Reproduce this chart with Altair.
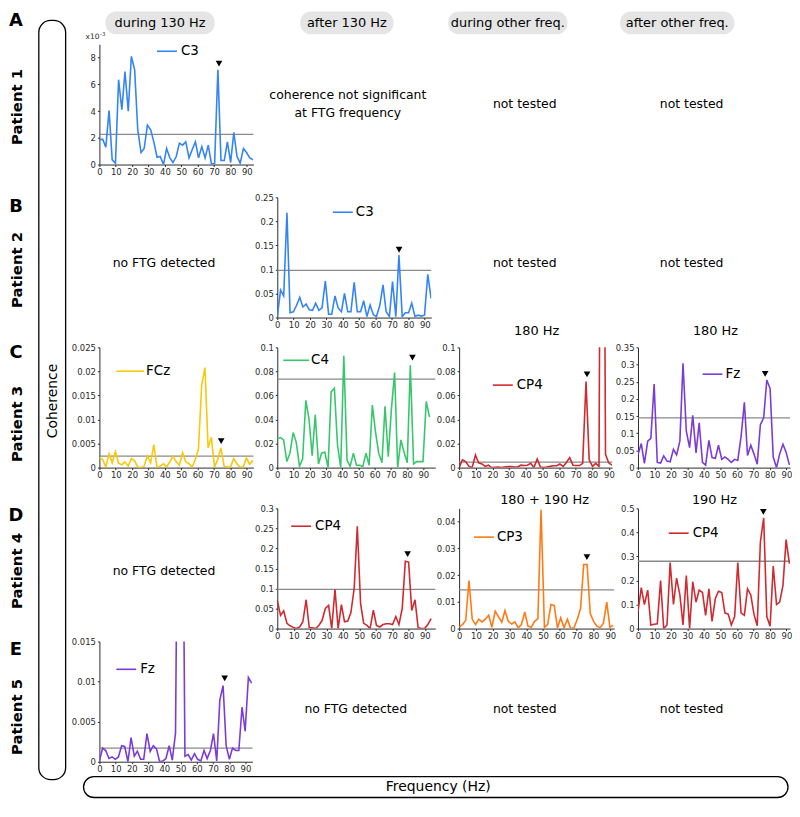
import altair as alt
import pandas as pd

FONT = "DejaVu Sans"
INK = "#2b2b2b"

# ---------------------------------------------------------------- data
FREQ = [0.0, 2.0, 3.9, 5.9, 7.8, 9.8, 11.7, 13.7, 15.6, 17.6, 19.5, 21.5, 23.4,
        25.4, 27.3, 29.3, 31.3, 33.2, 35.2, 37.1, 39.1, 41.0, 43.0, 44.9, 46.9,
        48.8, 50.8, 52.7, 54.7, 56.6, 58.6, 60.5, 62.5, 64.5, 66.4, 68.4, 70.3,
        72.3, 74.2, 76.2, 78.1, 80.1, 82.0, 84.0, 85.9, 87.9, 89.8, 91.8, 93.8]
XTICKS = [0, 10, 20, 30, 40, 50, 60, 70, 80, 90]

P1_DURING_C3 = [1.85, 1.9, 1.3, 4.05, 0.35, 0.1, 6.35, 4.1, 6.95, 4.0, 8.1, 7.1, 2.6,
                0.9, 1.2, 2.95, 2.6, 1.7, 0.55, 0.6, 0.0, 1.2, 0.5, 0.15, 0.6, 1.6,
                1.45, 1.7, 0.5, 1.1, 1.7, 0.5, 1.35, 0.5, 1.45, 0.05, 0.05, 7.1, 0.3,
                0.3, 1.7, 0.15, 2.4, 0.6, 0.1, 1.2, 0.9, 0.5, 0.35]
P2_AFTER_C3 = [0.002, 0.057, 0.045, 0.218, 0.010, 0.012, 0.025, 0.042, 0.022, 0.028,
               0.016, 0.015, 0.030, 0.015, 0.020, 0.076, 0.007, 0.007, 0.045, 0.020,
               0.012, 0.050, 0.012, 0.012, 0.073, 0.012, 0.012, 0.035, 0.002, 0.026,
               0.006, 0.002, 0.025, 0.068, 0.012, 0.002, 0.075, 0.002, 0.130, 0.002,
               0.010, 0.010, 0.030, 0.002, 0.005, 0.003, 0.005, 0.090, 0.040]
P3_DURING_FCZ = [0.002, 0.0017, 0.0001, 0.0029, 0.001, 0.0033, 0.0009, 0.0006, 0.0012,
                 0.0003, 0.0019, 0.0014, 0.0001, 0.0, 0.0003, 0.0024, 0.001, 0.0048,
                 0.0, 0.0003, 0.0008, 0.0001, 0.0012, 0.0024, 0.0012, 0.0005, 0.0031,
                 0.0012, 0.0008, 0.0001, 0.0017, 0.0038, 0.0172, 0.0208, 0.0041, 0.0063,
                 0.0001, 0.0017, 0.0041, 0.0003, 0.0001, 0.0001, 0.0019, 0.0008, 0.0001,
                 0.0001, 0.002, 0.0007, 0.0015]
P3_AFTER_C4 = [0.024, 0.025, 0.023, 0.005, 0.012, 0.029, 0.021, 0.001, 0.007, 0.056,
               0.041, 0.010, 0.044, 0.003, 0.012, 0.013, 0.000, 0.063, 0.066, 0.019,
               0.000, 0.093, 0.006, 0.001, 0.012, 0.002, 0.002, 0.001, 0.012, 0.002,
               0.052, 0.030, 0.012, 0.004, 0.051, 0.009, 0.048, 0.079, 0.000, 0.023,
               0.013, 0.004, 0.085, 0.003, 0.005, 0.005, 0.005, 0.055, 0.042]
P3_OTHER_DURING_CP4 = [0.0, 0.0065, 0.005, 0.001, 0.0, 0.0105, 0.004, 0.003, 0.001, 0.002,
                       0.0, 0.0003, 0.0005, 0.0, 0.0005, 0.0008, 0.0008, 0.0005, 0.0005,
                       0.002, 0.0017, 0.002, 0.0035, 0.0, 0.0072, 0.0005, 0.0, 0.0005,
                       0.001, 0.0015, 0.0015, 0.003, 0.001, 0.0045, 0.0083, 0.002, 0.0017,
                       0.0017, 0.0035, 0.0715, 0.0065, 0.001, 0.0035, 0.001, 0.6, 0.011,
                       0.004, 0.002]
P3_OTHER_AFTER_FZ = [0.038, 0.07, 0.012, 0.077, 0.085, 0.243, 0.015, 0.013, 0.034, 0.019,
                     0.017, 0.053, 0.037, 0.077, 0.304, 0.106, 0.058, 0.152, 0.043, 0.13,
                     0.015, 0.007, 0.079, 0.029, 0.027, 0.065, 0.024, 0.031, 0.024, 0.015,
                     0.024, 0.021, 0.09, 0.19, 0.035, 0.065, 0.04, 0.01, 0.125, 0.145,
                     0.255, 0.23, 0.03, 0.0, 0.04, 0.068, 0.045, 0.008]
P4_AFTER_CP4 = [0.07, 0.033, 0.044, 0.013, 0.007, 0.003, 0.0, 0.004, 0.017, 0.072,
                0.002, 0.002, 0.0, 0.008, 0.02, 0.05, 0.058, 0.0, 0.098, 0.0,
                0.06, 0.017, 0.019, 0.04, 0.1, 0.255, 0.062, 0.013, 0.008, 0.0,
                0.046, 0.008, 0.004, 0.01, 0.012, 0.012, 0.01, 0.03, 0.01, 0.05,
                0.168, 0.166, 0.045, 0.072, 0.002, 0.0, 0.0, 0.01, 0.025]
P4_OTHER_DURING_CP3 = [0.0005, 0.0015, 0.003, 0.018, 0.0035, 0.0015, 0.0035, 0.0025,
                       0.0035, 0.005, 0.0005, 0.0065, 0.0045, 0.0024, 0.0067, 0.0027,
                       0.0017, 0.0025, 0.0003, 0.0015, 0.0062, 0.0009, 0.0005, 0.0027,
                       0.0036, 0.0445, 0.0005, 0.0015, 0.009, 0.0087, 0.0003, 0.004,
                       0.0003, 0.0035, 0.0, 0.0003, 0.0034, 0.0075, 0.024, 0.024, 0.0055,
                       0.0027, 0.0009, 0.0003, 0.002, 0.0099, 0.0005, 0.0012]
P4_OTHER_AFTER_CP4 = [0.07, 0.17, 0.10, 0.16, 0.015, 0.018, 0.02, 0.20, 0.0, 0.015,
                      0.275, 0.10, 0.21, 0.14, 0.015, 0.22, 0.0, 0.195, 0.11, 0.16,
                      0.15, 0.055, 0.165, 0.03, 0.125, 0.155, 0.15, 0.065, 0.06, 0.015,
                      0.05, 0.275, 0.065, 0.055, 0.165, 0.14, 0.06, 0.012, 0.36, 0.46,
                      0.05, 0.01, 0.26, 0.10, 0.11, 0.18, 0.37, 0.27]
P5_DURING_FZ = [0.0001, 0.0017, 0.0014, 0.0004, 0.0006, 0.0003, 0.0006, 0.002, 0.0019,
                0.0, 0.003, 0.0007, 0.0013, 0.0003, 0.0003, 0.0035, 0.0013, 0.002,
                0.0016, 0.0, 0.0001, 0.0004, 0.002, 0.0002, 0.0036, 0.05, 0.05, 0.0007,
                0.0009, 0.0002, 0.001, 0.0003, 0.0001, 0.0014, 0.0004, 0.0014, 0.0035,
                0.0001, 0.0077, 0.0095, 0.002, 0.0003, 0.0017, 0.0014, 0.0014, 0.0068,
                0.0038, 0.0105, 0.0098]

SERIES = {"A1": P1_DURING_C3, "B2": P2_AFTER_C3, "C1": P3_DURING_FCZ, "C2": P3_AFTER_C4,
          "C3": P3_OTHER_DURING_CP4, "C4": P3_OTHER_AFTER_FZ, "D2": P4_AFTER_CP4,
          "D3": P4_OTHER_DURING_CP3, "D4": P4_OTHER_AFTER_CP4, "E1": P5_DURING_FZ}
CHANNEL = {"A1": "C3", "B2": "C3", "C1": "FCz", "C2": "C4", "C3": "CP4", "C4": "Fz",
           "D2": "CP4", "D3": "CP3", "D4": "CP4", "E1": "Fz"}
THRESHOLD = {"A1": 2.25, "B2": 0.098, "C1": 0.0024, "C2": 0.0735, "C3": 0.0045,
             "C4": 0.145, "D2": 0.098, "D3": 0.0145, "D4": 0.28, "E1": 0.0017}
PEAK_MARK = {"A1": (73.0, 7.55), "B2": (74.3, 0.141), "C1": (74.4, 0.0055),
             "C2": (83.3, 0.0915), "C3": (76.8, 0.0776), "C4": (77.1, 0.273),
             "D2": (79.5, 0.186), "D3": (76.1, 0.0267), "D4": (76.0, 0.485),
             "E1": (77.2, 0.0104)}
YMAX = {"A1": 9, "B2": 0.25, "C1": 0.025, "C2": 0.1, "C3": 0.1, "C4": 0.35,
        "D2": 0.3, "D3": 0.045, "D4": 0.5, "E1": 0.015}
YTICKS = {"A1": [0, 2, 4, 6, 8],
          "B2": [0, 0.05, 0.1, 0.15, 0.2, 0.25],
          "C1": [0, 0.005, 0.01, 0.015, 0.02, 0.025],
          "C2": [0, 0.02, 0.04, 0.06, 0.08, 0.1],
          "C3": [0, 0.02, 0.04, 0.06, 0.08, 0.1],
          "C4": [0, 0.05, 0.1, 0.15, 0.2, 0.25, 0.3, 0.35],
          "D2": [0, 0.05, 0.1, 0.15, 0.2, 0.25, 0.3],
          "D3": [0, 0.01, 0.02, 0.03, 0.04],
          "D4": [0, 0.1, 0.2, 0.3, 0.4, 0.5],
          "E1": [0, 0.005, 0.01, 0.015]}
STIM_TITLE = {"C3": "180 Hz", "C4": "180 Hz", "D3": "180 + 190 Hz", "D4": "190 Hz"}
SCALE_NOTE = ("x10", "-3")

COL_HEADERS = ["during 130 Hz", "after 130 Hz", "during other freq.", "after other freq."]
ROW_LETTERS = ["A", "B", "C", "D", "E"]
PATIENTS = ["Patient 1", "Patient 2", "Patient 3", "Patient 4", "Patient 5"]
NOT_SIG = ["coherence not significant", "at FTG frequency"]
NOT_TESTED = "not tested"
NO_FTG = "no FTG detected"
Y_TITLE = "Coherence"
X_TITLE = "Frequency (Hz)"

# ---------------------------------------------------------------- styles / layout
COLORS = {"A1": "#3384f7", "B2": "#3384f7", "C1": "#f9c80a", "C2": "#38c66c",
          "C3": "#cf2a30", "C4": "#7a3bd8", "D2": "#cf2a30", "D3": "#ff7a14",
          "D4": "#cf2a30", "E1": "#7a3bd8"}
THR_COLOR = "#8a8a8a"
PILL = "#e5e5e5"
PLOT_H = 121
COL_GAP = 24
OX, OY = 8, 8  # page offset of the grid origin

# per panel: width, px per Hz, legend (line x1, x2, y, text x) in plot pixels
BOX = {"A1": dict(w=155, pxhz=1.649, legend=(58, 78, 7, 82)),
       "B2": dict(w=155, pxhz=1.65, legend=(56, 76, 15, 79)),
       "C1": dict(w=155, pxhz=1.647, legend=(17, 45, 24, 47)),
       "C2": dict(w=159, pxhz=1.633, legend=(6, 32, 13, 34)),
       "C3": dict(w=154, pxhz=1.676, legend=(34, 54, 38, 58)),
       "C4": dict(w=153, pxhz=1.66, legend=(65, 85, 27, 88)),
       "D2": dict(w=159, pxhz=1.65, legend=(14, 34, 18, 38)),
       "D3": dict(w=156, pxhz=1.69, legend=(15, 35, 29, 38)),
       "D4": dict(w=153, pxhz=1.66, legend=(31, 51, 25, 55)),
       "E1": dict(w=154, pxhz=1.633, legend=(17, 37, 28, 41))}
STIM_POS = {"C3": (78, -16), "C4": (78, -16), "D3": (86, -8), "D4": (77, -8)}

ROW_H = [33, 154, 151, 162, 134, 121]
GRID = [
    [("annot", 55), ("blank", 10), ("blank", 10), ("blank", 10), ("blank", 10)],
    [("blank", 55), ("A1", None), ("blank", 10), ("blank", 10), ("blank", 10)],
    [("blank", 65), ("blank", 155), ("B2", None), ("blank", 10), ("blank", 10)],
    [("blank", 65), ("C1", None), ("C2", None), ("C3", None), ("C4", None)],
    [("blank", 65), ("blank", 153), ("D2", None), ("D3", None), ("D4", None)],
    [("blank", 64), ("E1", None), ("blank", 10), ("blank", 10), ("blank", 10)],
]

# annotation positions in page pixels
PILL_BOX = [(103, 213), (299, 393), (448, 568), (621, 736)]
PILL_Y = (8, 31)
LETTER_Y = [18, 205, 352, 516, 651]
PATIENT_Y = [104, 268, 423, 571, 718]
COH_BOX = (36, 63, 17, 781)
FREQ_BOX = (81, 790, 778, 799)
CELL_TEXT_POS = [
    (NOT_SIG[0], 347, 92), (NOT_SIG[1], 347, 110),
    (NOT_TESTED, 525, 101), (NOT_TESTED, 693, 101),
    (NO_FTG, 162, 261), (NOT_TESTED, 525, 261), (NOT_TESTED, 693, 261),
    (NO_FTG, 162, 571),
    (NO_FTG, 355, 710), (NOT_TESTED, 525, 710), (NOT_TESTED, 693, 710),
]

ONE = pd.DataFrame({"z": [0]})


def px(x):
    return x - OX


def py(y):
    return y - OY


def pos_enc():
    return dict(x=alt.X("x:Q", scale=None, axis=None), y=alt.Y("y:Q", scale=None, axis=None))


def text_layer(rows, **kw):
    df = pd.DataFrame({"t": [r[0] for r in rows], "x": [px(r[1]) for r in rows],
                       "y": [py(r[2]) for r in rows]})
    return alt.Chart(df).mark_text(**kw).encode(text="t:N", **pos_enc())


def annotation(width, height):
    pills = pd.DataFrame({"x": [px(a) for a, b in PILL_BOX], "x2": [px(b) for a, b in PILL_BOX],
                          "y": [py(PILL_Y[0])] * 4, "y2": [py(PILL_Y[1])] * 4})
    outlines = pd.DataFrame({"x": [px(COH_BOX[0]), px(FREQ_BOX[0])],
                             "x2": [px(COH_BOX[1]), px(FREQ_BOX[1])],
                             "y": [py(COH_BOX[2]), py(FREQ_BOX[2])],
                             "y2": [py(COH_BOX[3]), py(FREQ_BOX[3])]})
    layers = [
        alt.Chart(pills).mark_rect(fill=PILL, cornerRadius=11).encode(
            x2="x2:Q", y2="y2:Q", **pos_enc()),
        alt.Chart(outlines).mark_rect(fill="white", fillOpacity=0, stroke="black",
                                      strokeWidth=1.3, cornerRadius=12).encode(
            x2="x2:Q", y2="y2:Q", **pos_enc()),
        text_layer([(h, (a + b) / 2, 19.5) for h, (a, b) in zip(COL_HEADERS, PILL_BOX)],
                   fontSize=13, align="center", baseline="middle", color="black"),
        text_layer([(l, 13, y) for l, y in zip(ROW_LETTERS, LETTER_Y)],
                   fontSize=18, fontWeight="bold", align="center", baseline="middle",
                   color="black"),
        text_layer([(p, 14, y) for p, y in zip(PATIENTS, PATIENT_Y)],
                   fontSize=15, fontWeight="bold", align="center", baseline="middle",
                   angle=270, color="black"),
        text_layer([(Y_TITLE, (COH_BOX[0] + COH_BOX[1]) / 2 + 1, 400)],
                   fontSize=14, align="center", baseline="middle", angle=270,
                   color="black"),
        text_layer([(X_TITLE, 438, (FREQ_BOX[2] + FREQ_BOX[3]) / 2)],
                   fontSize=14, align="center", baseline="middle", color="black"),
        text_layer(CELL_TEXT_POS, fontSize=12.5, align="center", baseline="middle",
                   color="black"),
    ]
    return alt.layer(*layers).properties(width=width, height=height)


def blank(width, height):
    return alt.Chart(ONE).mark_point(opacity=0, size=1).encode(
        x=alt.value(0), y=alt.value(0)).properties(width=width, height=height)


def panel(key):
    vals = SERIES[key]
    box = BOX[key]
    xmax = round(box["w"] / box["pxhz"], 2)
    df = pd.DataFrame({"f": FREQ[:len(vals)], "c": vals})
    xenc = alt.X("f:Q", scale=alt.Scale(domain=[0, xmax], nice=False, zero=False),
                 axis=alt.Axis(values=XTICKS, title=None, labelFlush=False,
                               labelOverlap=False, grid=False, tickSize=2,
                               labelPadding=1))
    yenc = alt.Y("c:Q", scale=alt.Scale(domain=[0, YMAX[key]], nice=False),
                 axis=alt.Axis(values=YTICKS[key], format=".3~f", title=None,
                               labelFlush=False, labelOverlap=False, grid=False,
                               tickSize=2, labelPadding=2))
    thr = alt.Chart(pd.DataFrame({"c": [THRESHOLD[key]]})).mark_rule(
        color=THR_COLOR, strokeWidth=1.3).encode(y=yenc)
    line = alt.Chart(df).mark_line(color=COLORS[key], strokeWidth=1.6, clip=True).encode(
        x=xenc, y=yenc)
    mx, my = PEAK_MARK[key]
    mark = alt.Chart(pd.DataFrame({"f": [mx], "c": [my]})).mark_point(
        shape="triangle-down", filled=True, color="black", opacity=1, size=45).encode(
        x=xenc, y=yenc)
    lx1, lx2, ly, lt = box["legend"]
    leg_line = alt.Chart(ONE).mark_rule(color=COLORS[key], strokeWidth=1.6).encode(
        x=alt.value(lx1), x2=alt.value(lx2), y=alt.value(ly))
    leg_text = alt.Chart(ONE).mark_text(
        text=CHANNEL[key], align="left", baseline="middle", fontSize=13.5,
        color="black").encode(x=alt.value(lt), y=alt.value(ly))
    layers = [thr, line, mark, leg_line, leg_text]
    if key in STIM_TITLE:
        sx, sy = STIM_POS[key]
        layers.append(alt.Chart(ONE).mark_text(
            text=STIM_TITLE[key], align="center", baseline="middle", fontSize=13,
            color="black").encode(x=alt.value(sx), y=alt.value(sy)))
    if key == "A1":
        layers.append(alt.Chart(ONE).mark_text(
            text=SCALE_NOTE[0], align="right", baseline="middle", fontSize=7.5,
            color=INK).encode(x=alt.value(0), y=alt.value(-7)))
        layers.append(alt.Chart(ONE).mark_text(
            text=SCALE_NOTE[1], align="left", baseline="middle", fontSize=5.5,
            color=INK).encode(x=alt.value(0.5), y=alt.value(-10)))
    return alt.layer(*layers).properties(width=box["w"], height=PLOT_H)


cells = []
for r, row in enumerate(GRID):
    for kind, w in row:
        if kind == "annot":
            cells.append(annotation(w, ROW_H[r]))
        elif kind == "blank":
            cells.append(blank(w, ROW_H[r]))
        else:
            cells.append(panel(kind))

chart = alt.concat(
    *cells, columns=5, spacing={"row": 0, "column": COL_GAP}, bounds="flush",
    align={"row": "each", "column": "none"},
).properties(padding=0, background="white").configure(font=FONT).configure_view(
    stroke=None).configure_axis(
    labelFont=FONT, labelFontSize=8.5, labelColor=INK, domainColor=INK, tickColor=INK)

chart.save("out.html", embed_options={"renderer": "svg", "actions": False})
